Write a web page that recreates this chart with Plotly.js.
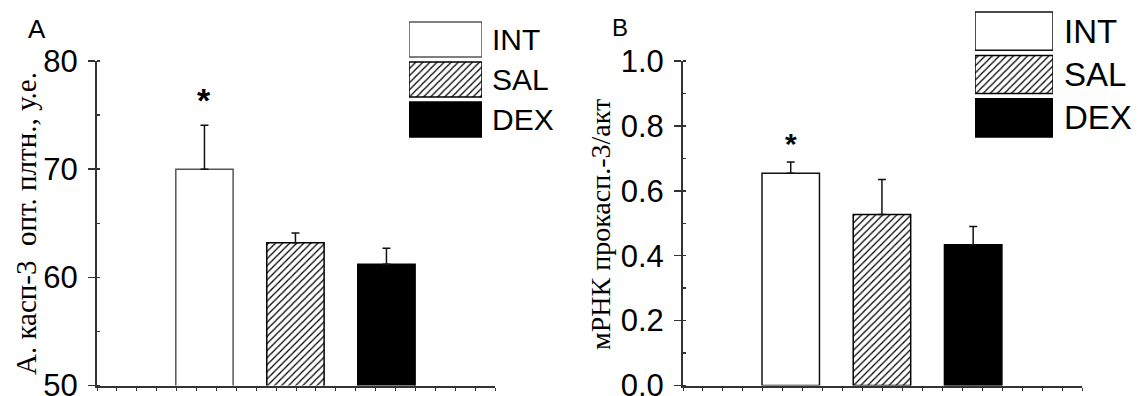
<!DOCTYPE html>
<html><head><meta charset="utf-8">
<script src="https://cdn.plot.ly/plotly-3.0.1.min.js"></script>
<style>html,body{margin:0;padding:0;background:#fff}#chart{width:1138px;height:396px}</style>
</head><body><div id="chart"></div>
<script>
// ---- data ----
const groups = ["INT", "SAL", "DEX"];
const positions = [1, 2, 3];
const valuesA = [70.0, 63.2, 61.2];
const errorsA = [4.05, 0.9, 1.5];
const valuesB = [0.654, 0.527, 0.434];
const errorsB = [0.035, 0.108, 0.056];
const yTitleA = "А. касп-3  опт. плтн., у.е.";
const yTitleB = "мРНК прокасп.-3/акт";
const starA = 76.4, starB = 0.745;

const W = 1138, H = 396;
const px = v => v / W, py = v => 1 - v / H;

const fills = ["#ffffff", "#ffffff", "#000000"];
const linesA = ["#555555", "#000000", "#000000"];
const linesB = ["#111111", "#000000", "#000000"];
const patterns = ["", "/", ""];

function groupBars(xa, ya, vals, errs, lc) {
  return groups.map((g, i) => ({
    type: "bar", x: [positions[i]], y: [vals[i]], width: 0.63,
    xaxis: xa, yaxis: ya, showlegend: false, hoverinfo: "skip",
    marker: {color: fills[i], line: {color: lc[i], width: 1.5},
      pattern: {shape: patterns[i], fgcolor: "#000", bgcolor: "#fff", size: 5, solidity: 0.25}},
    error_y: {type: "data", symmetric: false, array: [errs[i]], arrayminus: [0],
      color: "#111", thickness: 1.5, width: 4}
  }));
}
function legendBars(xa, ya, lc) {
  return groups.map((g, i) => ({
    type: "bar", orientation: "h", y: [g], x: [1], base: [0], width: 0.88,
    xaxis: xa, yaxis: ya, showlegend: false, hoverinfo: "skip",
    marker: {color: fills[i], line: {color: lc[i], width: 1.5},
      pattern: {shape: patterns[i], fgcolor: "#000", bgcolor: "#fff", size: 5, solidity: 0.25}}
  }));
}

const data = [
  ...groupBars("x", "y", valuesA, errorsA, linesA),
  ...groupBars("x2", "y2", valuesB, errorsB, linesB),
  ...legendBars("x3", "y3", linesA),
  ...legendBars("x4", "y4", linesB)
];

const xr = [-0.181, 4.193];
const xAxisBase = (dom) => ({
  domain: dom, range: xr, showgrid: false, zeroline: false,
  showline: true, linecolor: "#333", linewidth: 2,
  ticks: "outside", ticklen: 3, tickcolor: "#333", tickwidth: 1,
  tick0: xr[0], dtick: (xr[1] - xr[0]) / 20, showticklabels: false
});
const yAxisBase = (dom, range, dtick, minorDtick, fmt) => ({
  domain: dom, range: range, showgrid: false, zeroline: false,
  showline: true, linecolor: "#333", linewidth: 2,
  ticks: "outside", ticklen: 7, tickcolor: "#333", tickwidth: 1.5,
  dtick: dtick, tickformat: fmt, ticklabeloverflow: "allow", ticklabelstandoff: 4,
  tickfont: {family: "Liberation Sans, Arial", size: 31, color: "#000"},
  minor: {dtick: minorDtick, ticks: "inside", ticklen: 3, tickcolor: "#333", showgrid: false}
});
const hidden = (dom, extra) => Object.assign({domain: dom, visible: false, fixedrange: true}, extra);

const yDom = [1 - 385.5 / H, 1 - 61 / H];

const layout = {
  width: W, height: H, margin: {l: 0, r: 0, t: 0, b: 0},
  paper_bgcolor: "#fff", plot_bgcolor: "rgba(0,0,0,0)",
  showlegend: false, bargap: 0,
  xaxis: xAxisBase([px(97), px(495)]),
  yaxis: yAxisBase(yDom, [50, 80], 10, 5, "d"),
  xaxis2: Object.assign(xAxisBase([px(683), px(1082)]), {anchor: "y2"}),
  yaxis2: Object.assign(yAxisBase(yDom, [0, 1.0], 0.2, 0.1, ".1f"), {anchor: "x2"}),
  xaxis3: hidden([px(409), px(482)], {range: [0, 1], anchor: "y3"}),
  yaxis3: hidden([py(139.5), py(19.5)], {type: "category", categoryorder: "array", categoryarray: ["DEX", "SAL", "INT"], range: [-0.5, 2.5], anchor: "x3"}),
  xaxis4: hidden([px(975), px(1053)], {range: [0, 1], anchor: "y4"}),
  yaxis4: hidden([py(139.5), py(9.5)], {type: "category", categoryorder: "array", categoryarray: ["DEX", "SAL", "INT"], range: [-0.5, 2.5], anchor: "x4"}),
  annotations: [
    {text: yTitleA, xref: "paper", yref: "paper", x: px(26), y: py(224), textangle: -90,
     showarrow: false, xanchor: "center", yanchor: "middle",
     font: {family: "Liberation Serif, Times New Roman", size: 29, color: "#000"}},
    {text: yTitleB, xref: "paper", yref: "paper", x: px(600), y: py(225), textangle: -90,
     showarrow: false, xanchor: "center", yanchor: "middle",
     font: {family: "Liberation Serif, Times New Roman", size: 28, color: "#000"}},
    {text: "A", xref: "paper", yref: "paper", x: px(26), y: py(12), xanchor: "left", yanchor: "top",
     showarrow: false, font: {family: "Liberation Sans, Arial", size: 26, color: "#000"}},
    {text: "B", xref: "paper", yref: "paper", x: px(610), y: py(12), xanchor: "left", yanchor: "top",
     showarrow: false, font: {family: "Liberation Sans, Arial", size: 24, color: "#000"}},
    {text: "<b>*</b>", xref: "x", yref: "y", x: positions[0], y: starA, showarrow: false, yanchor: "middle",
     font: {family: "Liberation Sans, Arial", size: 34, color: "#000"}},
    {text: "<b>*</b>", xref: "x2", yref: "y2", x: positions[0], y: starB, showarrow: false, yanchor: "middle",
     font: {family: "Liberation Sans, Arial", size: 30, color: "#000"}},
    ...groups.map(g => ({text: g, xref: "x3", yref: "y3", x: 1, y: g, xanchor: "left", yanchor: "middle",
      xshift: 8, showarrow: false, font: {family: "Liberation Sans, Arial", size: 30, color: "#000"}})),
    ...groups.map(g => ({text: g, xref: "x4", yref: "y4", x: 1, y: g, xanchor: "left", yanchor: "middle",
      xshift: 9, showarrow: false, font: {family: "Liberation Sans, Arial", size: 33, color: "#000"}}))
  ]
};

Plotly.newPlot("chart", data, layout, {staticPlot: true, displayModeBar: false});
</script></body></html>
